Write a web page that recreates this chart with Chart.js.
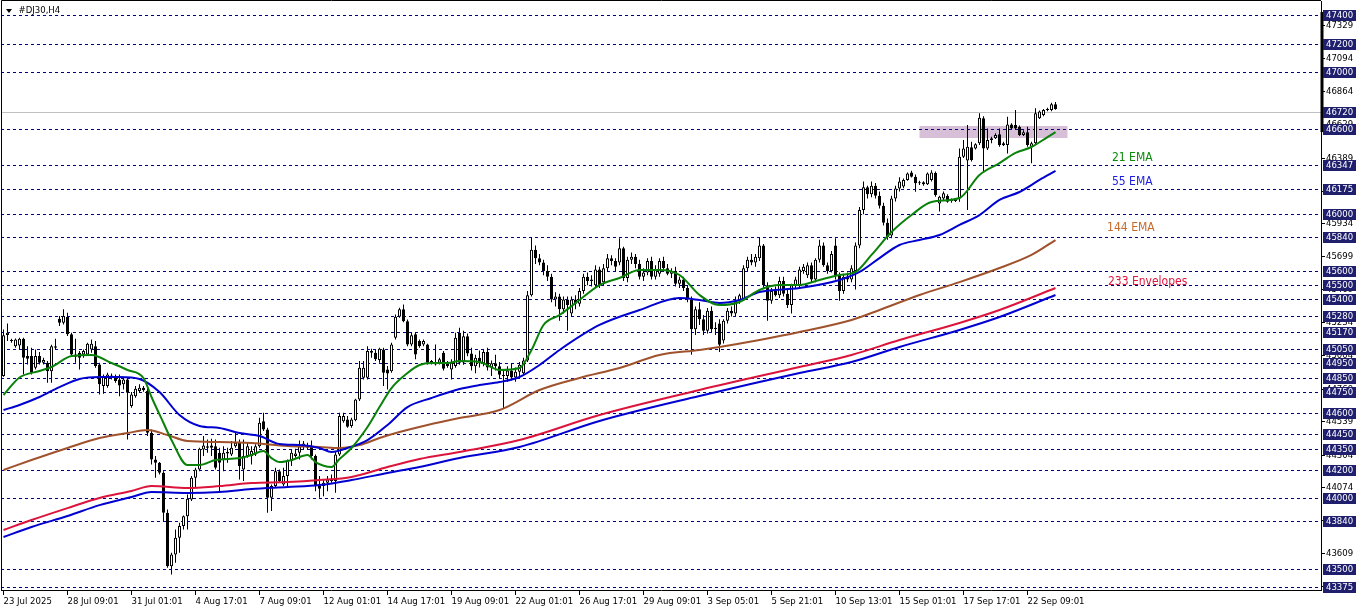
<!DOCTYPE html>
<html>
<head>
<meta charset="utf-8">
<script src="https://cdn.jsdelivr.net/npm/chart.js@4.4.0/dist/chart.umd.min.js"></script>
<style>
  html, body { margin: 0; padding: 0; background: #fff; }
</style>
</head>
<body>
<canvas id="chart" width="1362" height="611"></canvas>
<script>
// #DJ30 H4 candles, bar 0 = 23 Jul 2025
const opens = [
  44860,45150,45110,45071,45076,45123,45001,45001,44919,45001,
  44954,44954,44895,45060,45264,45236,45278,45154,44996,45024,
  45013,45013,45048,45071,44942,44790,44790,44846,44855,44837,
  44802,44837,44649,44719,44755,44778,44755,44461,44273,44250,
  44180,43898,43522,43605,43722,43804,43874,43992,44144,44203,
  44344,44356,44372,44367,44320,44273,44316,44309,44367,44391,
  44203,44297,44297,44309,44367,44543,44485,44004,44086,44191,
  44097,44156,44262,44297,44320,44367,44374,44367,44297,44086,
  44086,44109,44121,44121,44309,44543,44555,44508,44550,44696,
  44848,44848,45024,45024,44973,45048,44907,44895,45130,45278,
  45330,45247,45083,45154,45107,45083,45083,44954,44942,44954,
  45024,44954,44907,44931,45165,44955,45140,45020,44930,44990,
  44950,45030,44920,44950,44930,44870,44860,44900,44850,44890,
  44880,44970,45430,45750,45690,45660,45600,45560,45400,45420,
  45330,45400,45300,45400,45370,45460,45560,45530,45500,45610,
  45520,45620,45690,45670,45660,45760,45550,45680,45700,45650,
  45560,45590,45670,45560,45580,45670,45620,45580,45600,45510,
  45540,45480,45400,45190,45330,45260,45180,45320,45190,45230,
  45110,45250,45320,45300,45390,45400,45620,45680,45660,45690,
  45780,45500,45390,45460,45430,45530,45440,45360,45500,45500,
  45600,45570,45640,45540,45680,45780,45640,45600,45780,45570,
  45460,45560,45540,45600,45780,46030,46190,46140,46200,46130,
  46060,45940,45850,46110,46180,46194,46241,46294,46264,46217,
  46224,46210,46240,46290,46076,46111,46130,46093,46100,46111,
  46405,46377,46471,46463,46499,46675,46463,46522,46534,46562,
  46499,46487,46632,46628,46616,46557,46576,46475,46499,46675,
  46698,46733,46733,46773
];
const highs = [
  45189,45231,45123,45125,45130,45130,45071,45060,45048,45029,
  44989,44966,45080,45123,45283,45330,45306,45165,45123,45036,
  45048,45095,45118,45107,44954,44872,44884,44879,44872,44872,
  44848,44848,44748,44790,44802,44790,44778,44485,44297,44255,
  44191,43921,43616,43781,43828,43879,44027,44156,44215,44356,
  44438,44414,44419,44414,44356,44367,44356,44403,44461,44414,
  44414,44391,44367,44380,44567,44602,44496,44097,44215,44203,
  44215,44273,44344,44349,44407,44403,44391,44407,44309,44156,
  44133,44156,44168,44332,44602,44602,44579,44567,44701,44966,
  44966,45071,45053,45048,45060,45060,44931,45095,45294,45341,
  45365,45259,45165,45165,45118,45118,45088,44973,45083,44989,
  45036,44966,44978,45165,45200,45180,45160,45060,45010,45040,
  45050,45060,44970,45010,44960,44900,44930,44950,44920,44960,
  44990,45460,45840,45780,45720,45680,45640,45580,45450,45440,
  45420,45420,45420,45430,45480,45580,45590,45570,45640,45630,
  45650,45720,45710,45690,45830,45770,45700,45730,45720,45680,
  45620,45690,45700,45640,45690,45700,45650,45620,45630,45560,
  45560,45500,45420,45350,45380,45290,45340,45350,45240,45260,
  45260,45340,45350,45420,45440,45640,45700,45720,45720,45840,
  45790,45520,45480,45490,45560,45560,45470,45510,45560,45630,
  45650,45660,45660,45690,45820,45800,45660,45740,45830,45590,
  45580,45590,45640,45800,46050,46230,46200,46230,46220,46160,
  46080,45970,46130,46200,46260,46252,46294,46305,46280,46235,
  46232,46294,46310,46300,46130,46160,46140,46110,46110,46463,
  46522,46628,46510,46500,46710,46690,46604,46545,46570,46604,
  46510,46686,46640,46733,46625,46590,46616,46510,46745,46730,
  46740,46750,46785,46790
];
const lows = [
  44855,45107,45095,45060,45048,44872,44942,44872,44907,44942,
  44942,44813,44813,45048,45212,45224,45142,45001,44954,44907,
  44989,45001,45024,44919,44731,44736,44778,44837,44813,44719,
  44766,44414,44637,44708,44743,44750,44438,44238,44144,44168,
  43839,43511,43464,43546,43616,43781,43781,43980,44074,44191,
  44297,44320,44297,44203,44039,44191,44250,44297,44356,44133,
  44121,44285,44238,44297,44356,44473,43898,43910,44074,44109,
  44086,44086,44227,44285,44273,44344,44344,44273,44050,44004,
  44015,44050,44109,44039,44297,44532,44496,44496,44543,44684,
  44837,44837,44989,44966,44954,44790,44766,44884,45118,45271,
  45240,45071,45071,44978,45060,45071,44942,44942,44935,44942,
  44900,44919,44837,44919,44940,44940,45000,44900,44880,44920,
  44930,44900,44860,44900,44840,44630,44820,44830,44820,44860,
  44870,44960,45420,45650,45640,45570,45530,45380,45350,45250,
  45300,45180,45280,45330,45350,45440,45500,45490,45480,45480,
  45500,45600,45640,45600,45640,45530,45520,45650,45620,45540,
  45530,45570,45540,45540,45560,45600,45570,45550,45490,45480,
  45460,45380,45010,45150,45220,45150,45160,45170,45150,45030,
  45090,45230,45280,45280,45370,45390,45600,45640,45630,45670,
  45480,45250,45370,45420,45410,45420,45340,45300,45480,45480,
  45580,45550,45520,45520,45660,45630,45580,45590,45540,45390,
  45440,45520,45520,45470,45760,46000,46110,46120,46110,46040,
  45920,45820,45830,46090,46160,46182,46236,46258,46158,46205,
  46200,46205,46230,46123,46018,46100,46080,46080,46085,46088,
  46395,46029,46370,46455,46487,46300,46452,46500,46530,46475,
  46480,46428,46595,46595,46550,46550,46475,46358,46487,46670,
  46690,46725,46725,46735
];
const closes = [
  45147,45165,45107,45118,45123,44989,44982,44884,45001,44954,
  44973,44895,45071,45071,45236,45283,45154,45013,45013,44989,
  45036,45088,45088,44931,44802,44855,44872,44865,44825,44794,
  44837,44743,44731,44771,44778,44760,44461,44273,44250,44180,
  43898,43522,43605,43722,43804,43874,43997,44144,44203,44349,
  44372,44367,44356,44215,44250,44320,44325,44356,44391,44227,
  44297,44367,44332,44367,44532,44485,44004,44086,44191,44121,
  44156,44262,44320,44316,44367,44386,44356,44297,44086,44067,
  44109,44133,44135,44309,44579,44579,44503,44555,44696,44919,
  44919,45036,45036,44978,45053,44884,44879,45083,45278,45330,
  45247,45083,45147,45013,45071,45107,44954,44966,44954,44978,
  44912,44931,44954,45130,44954,45140,45020,44930,44990,44950,
  45030,44920,44950,44930,44870,44860,44900,44850,44890,44940,
  44970,45430,45750,45690,45660,45600,45560,45400,45420,45330,
  45400,45360,45400,45370,45460,45560,45530,45540,45610,45500,
  45620,45690,45670,45630,45760,45550,45680,45700,45650,45560,
  45590,45670,45560,45610,45670,45620,45580,45600,45510,45540,
  45480,45400,45190,45330,45260,45180,45320,45190,45200,45080,
  45250,45320,45300,45390,45430,45620,45680,45660,45700,45780,
  45500,45390,45460,45430,45530,45440,45360,45500,45540,45610,
  45630,45640,45540,45680,45780,45640,45600,45720,45570,45460,
  45560,45540,45620,45780,46030,46190,46140,46200,46130,46060,
  45940,45840,46110,46180,46230,46241,46287,46264,46217,46224,
  46210,46287,46294,46135,46123,46147,46088,46100,46093,46405,
  46463,46475,46381,46492,46679,46463,46522,46534,46557,46487,
  46485,46632,46604,46604,46557,46576,46487,46499,46710,46722,
  46733,46740,46773,46740
];

// indicator readings (bar index -> price)
const ema21Idx = [0,4,9,12,17,22,27,31,35,37,40,42,46,49,53,59,62,65,67,69,72,76,78,82,84,87,91,94,97,101,104,107,111,114,119,124,129,132,135,139,144,149,154,159,164,169,174,179,184,189,194,199,204,209,213,217,222,227,232,239,244,249,253,257,261,263];
const ema21Val = [44727,44850,44896,44924,45001,45009,44952,44903,44847,44713,44530,44410,44234,44234,44269,44283,44305,44333,44283,44255,44269,44305,44255,44220,44276,44354,44502,44642,44776,44882,44938,44952,44952,44966,44959,44903,44917,45044,45220,45290,45396,45501,45551,45607,45607,45572,45431,45360,45382,45466,45501,45501,45537,45572,45593,45713,45874,45994,46086,46114,46276,46360,46431,46473,46543,46578];
const ema55Idx = [0,4,9,14,19,24,29,34,39,44,49,54,59,64,69,74,79,82,86,91,96,101,107,114,119,124,129,134,139,149,159,169,174,179,184,189,199,209,214,219,224,229,234,239,244,249,254,259,263];
const ema55Val = [44621,44657,44713,44783,44840,44854,44854,44840,44748,44586,44509,44495,44459,44438,44382,44375,44354,44326,44354,44410,44516,44642,44706,44769,44797,44818,44854,44938,45044,45220,45325,45410,45396,45375,45396,45452,45480,45537,45593,45691,45783,45818,45853,45924,45994,46100,46156,46241,46304];
const ema144Idx = [0,7,16,24,31,36,41,46,54,62,71,79,84,89,94,99,106,114,124,134,144,154,164,174,179,189,199,212,219,229,239,249,257,263];
const ema144Val = [44199,44269,44354,44424,44459,44481,44445,44403,44396,44389,44368,44361,44354,44375,44424,44466,44516,44565,44621,44762,44847,44917,45009,45044,45065,45114,45170,45255,45325,45431,45522,45621,45713,45818];
const envIdx = [0,7,16,24,32,37,46,54,62,71,79,87,96,104,114,129,149,174,199,212,224,239,249,263];
const envUpper = [43777,43847,43931,44002,44051,44086,44072,44086,44107,44114,44128,44150,44220,44276,44326,44410,44586,44762,44924,45009,45114,45234,45325,45480];
const envLower = [43727,43798,43875,43952,44009,44044,44037,44044,44065,44079,44093,44128,44178,44220,44283,44361,44544,44720,44882,44959,45065,45185,45276,45431];

// horizontal levels, bid, auto scale ticks
const levels = [47400,47200,47000,46600,46347,46175,46000,45840,45600,45500,45400,45280,45170,45050,44950,44850,44750,44600,44450,44350,44200,44000,43840,43500,43375];
const bid = 46720;
const autoTicks = [47329,47094,46864,46629,46389,46159,45934,45699,45469,45234,45004,44769,44539,44304,44074,43844,43609,43379];
const zoneIdx = [229, 266];
const zonePrice = [46536, 46621];

const timeIdx = [0,16,32,48,64,80,96,112,128,144,160,176,192,208,224,240,256];
const timeLabels = ['23 Jul 2025','28 Jul 09:01','31 Jul 01:01','4 Aug 17:01','7 Aug 09:01','12 Aug 01:01','14 Aug 17:01','19 Aug 09:01','22 Aug 01:01','26 Aug 17:01','29 Aug 09:01','3 Sep 05:01','5 Sep 21:01','10 Sep 13:01','15 Sep 01:01','17 Sep 17:01','22 Sep 09:01'];

const FONT = '"DejaVu Sans Condensed", "DejaVu Sans", sans-serif';

function pts(idx, vals) {
  return idx.map((x, k) => ({ x, y: vals[k] }))
}

function lineSet(label, idx, vals, color, order) {
  return {
    type: 'line', label, data: pts(idx, vals), borderColor: color, borderWidth: 2,
    pointRadius: 0, fill: false, cubicInterpolationMode: 'monotone', order
  }
}

const wickData = highs.map((h, i) => ({ x: i, y: [lows[i], h] }))
const bodyData = opens.map((o, i) => ({ x: i, y: [o, closes[i]] }))
const bodyFill = opens.map((o, i) => closes[i] >= o ? '#ffffff' : '#000000')

const labelsOnChart = [
  { text: '21 EMA', idx: 277.1, price: 46393, color: '#0a8a0a' },
  { text: '55 EMA', idx: 277.1, price: 46229, color: '#1c1ce0' },
  { text: '144 EMA', idx: 275.9, price: 45903, color: '#c8692a' },
  { text: '233 Envelopes', idx: 276.1, price: 45525, color: '#e0143c' }
]

const mt4 = {
  id: 'mt4',
  beforeDatasetsDraw(chart) {
    const { ctx, chartArea: a, scales: { x, y } } = chart
    ctx.save()
    ctx.beginPath()
    ctx.rect(a.left, a.top, a.right - a.left, a.bottom - a.top)
    ctx.clip()

    const zx1 = x.getPixelForValue(zoneIdx[0]), zx2 = x.getPixelForValue(zoneIdx[1])
    const zy1 = y.getPixelForValue(zonePrice[1]), zy2 = y.getPixelForValue(zonePrice[0])
    ctx.fillStyle = '#d8bfd8'
    ctx.fillRect(zx1, zy1, zx2 - zx1, zy2 - zy1)

    ctx.lineWidth = 1
    ctx.strokeStyle = '#000080'
    ctx.setLineDash([3, 3])
    levels.forEach((v) => {
      const py = Math.round(y.getPixelForValue(v)) + 0.5
      ctx.beginPath()
      ctx.moveTo(a.left, py)
      ctx.lineTo(a.right, py)
      ctx.stroke()
    })
    ctx.setLineDash([])
    ctx.strokeStyle = '#c0c0c0'
    const by = Math.round(y.getPixelForValue(bid)) + 0.5
    ctx.beginPath()
    ctx.moveTo(a.left, by)
    ctx.lineTo(a.right, by)
    ctx.stroke()
    ctx.restore()
  },
  afterDraw(chart) {
    const { ctx, chartArea: a, scales: { x, y } } = chart
    ctx.save()
    // frame
    ctx.strokeStyle = '#000'
    ctx.lineWidth = 1
    ctx.beginPath()
    ctx.moveTo(a.left + 0.5, a.bottom)
    ctx.lineTo(a.left + 0.5, 0.5)
    ctx.lineTo(a.right, 0.5)
    ctx.stroke()

    // thick mark on price axis
    ctx.fillStyle = '#000'
    const t1 = y.getPixelForValue(47423), t2 = y.getPixelForValue(46578)
    ctx.fillRect(a.right - 0.5, t1, 3, t2 - t1)

    // level labels on price axis
    ctx.font = '9.5px ' + FONT
    ctx.textBaseline = 'middle'
    ctx.textAlign = 'left'
    levels.concat([bid]).forEach((v) => {
      const py = Math.round(y.getPixelForValue(v))
      ctx.fillStyle = '#1f1f6e'
      ctx.fillRect(a.right + 2, py - 5, 33, 11)
      ctx.fillStyle = '#ffffff'
      ctx.fillText(String(v), a.right + 5, py + 0.5)
    })

    // indicator names
    ctx.font = '12px ' + FONT
    labelsOnChart.forEach((l) => {
      ctx.fillStyle = l.color
      ctx.fillText(l.text, x.getPixelForValue(l.idx), y.getPixelForValue(l.price))
    })

    // symbol title
    ctx.fillStyle = '#000'
    ctx.beginPath()
    ctx.moveTo(6, 9)
    ctx.lineTo(12, 9)
    ctx.lineTo(9, 13)
    ctx.closePath()
    ctx.fill()
    ctx.font = '9.5px ' + FONT
    ctx.fillText('#DJ30,H4', 18.5, 10.5)
    ctx.restore()
  }
}

new Chart(document.getElementById('chart'), {
  type: 'line',
  data: {
    datasets: [
      lineSet('21 EMA', ema21Idx, ema21Val, '#0a820a', 0),
      lineSet('55 EMA', ema55Idx, ema55Val, '#0000d0', 1),
      lineSet('144 EMA', ema144Idx, ema144Val, '#a0522d', 2),
      lineSet('Env up', envIdx, envUpper, '#dc143c', 3),
      lineSet('Env down', envIdx, envLower, '#0000d0', 3),
      {
        type: 'bar', label: 'wicks', data: wickData, backgroundColor: '#000',
        barThickness: 1, grouped: false, inflateAmount: 0, order: 6
      },
      {
        type: 'bar', label: 'bodies', data: bodyData, backgroundColor: bodyFill,
        borderColor: '#000', borderWidth: 1, borderSkipped: false, barThickness: 3,
        minBarLength: 1, grouped: false, inflateAmount: 0, order: 5
      }
    ]
  },
  options: {
    responsive: false,
    animation: false,
    events: [],
    layout: { padding: { left: 1, top: 1, right: 0, bottom: 0 } },
    plugins: { legend: { display: false }, tooltip: { enabled: false } },
    scales: {
      x: {
        type: 'linear', min: -0.625, max: 329.375, offset: false,
        afterBuildTicks: (s) => { s.ticks = timeIdx.map((v) => ({ value: v })) },
        afterFit: (s) => {
          s.height = 21
          s.paddingLeft = 0
          s.paddingRight = 0
        },
        grid: { drawOnChartArea: false, tickLength: 5, color: '#000', offset: false },
        border: { color: '#000' },
        ticks: {
          autoSkip: false, maxRotation: 0, align: 'start', padding: 1, color: '#000',
          font: { family: FONT, size: 9.5 },
          callback: (v, i) => timeLabels[i]
        }
      },
      y: {
        type: 'linear', position: 'right', min: 43354.3, max: 47500.7,
        afterBuildTicks: (s) => { s.ticks = autoTicks.map((v) => ({ value: v })) },
        afterFit: (s) => {
          s.width = 41
          s.paddingTop = 0
          s.paddingBottom = 0
        },
        grid: { drawOnChartArea: false, tickLength: 4, color: '#000' },
        border: { color: '#000' },
        ticks: {
          autoSkip: false, padding: 1, color: '#000',
          font: { family: FONT, size: 9.5 },
          callback: (v) => String(v)
        }
      }
    }
  },
  plugins: [mt4]
})
</script>
</body>
</html>
